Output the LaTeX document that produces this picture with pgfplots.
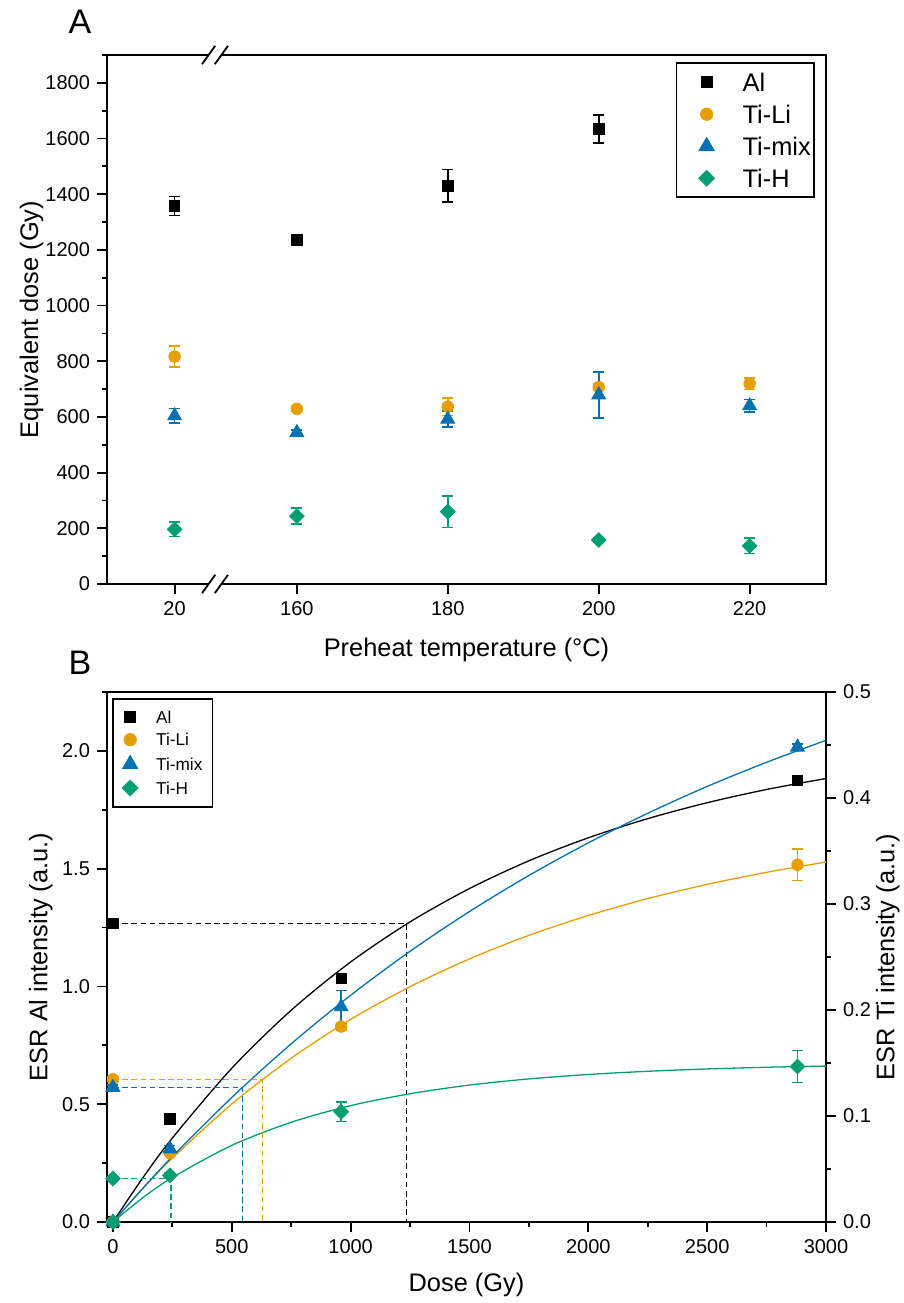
\documentclass[border=0pt]{standalone}
\usepackage{fontspec}
\setmainfont{Liberation Sans}
\usepackage{pgfplots}
\usepackage{pgfplotstable}
\pgfplotsset{compat=1.18}

\definecolor{tili}{HTML}{E69F00}
\definecolor{timix}{HTML}{0072B2}
\definecolor{tih}{HTML}{009E73}

% panel A: preheat plateau (x positions: 20 -> 0.19, 160..220 -> 1..4)
\pgfplotstableread[row sep=\\]{
x Al eAl Li eLi Mix eMix H eH \\
0.19 1358 34 817 38 604 26 196 26 \\
1 1236 8 629 10 544 10 244 28 \\
2 1430 59 637 32 592 29 260 57 \\
3 1634 51 707 12 679 83 158 8 \\
4 nan nan 719 20 640 22 137 28 \\
}\tabA

% panel B: dose response points
\pgfplotstableread[row sep=\\]{
x y e \\
0 0 0.005 \\
0 1.267 0.01 \\
240 0.437 0.01 \\
960 1.035 0.015 \\
2880 1.875 0.02 \\
}\bAl
\pgfplotstableread[row sep=\\]{
x y e \\
0 0 0.001 \\
0 0.1347 0.002 \\
240 0.0649 0.002 \\
960 0.1844 0.003 \\
2880 0.337 0.015 \\
}\bLi
\pgfplotstableread[row sep=\\]{
x y e \\
0 0 0.001 \\
0 0.127 0.002 \\
240 0.069 0.003 \\
960 0.203 0.0156 \\
2880 0.448 0.003 \\
}\bMix
\pgfplotstableread[row sep=\\]{
x y e \\
0 0 0.001 \\
0 0.041 0.002 \\
240 0.044 0.002 \\
960 0.104 0.009 \\
2880 0.1467 0.015 \\
}\bH

% fitted growth curves
\pgfplotstableread[row sep=\\]{
x al li mix h \\
0 0 0 0 0 \\
125 0.1865 0.0314 0.0316 0.0228 \\
250 0.3565 0.0603 0.0617 0.0420 \\
500 0.6527 0.1113 0.1175 0.0723 \\
750 0.8991 0.1545 0.1681 0.0941 \\
1000 1.1038 0.1911 0.2139 0.1098 \\
1250 1.2741 0.2220 0.2554 0.1210 \\
1500 1.4157 0.2482 0.2929 0.1292 \\
1750 1.5334 0.2704 0.3269 0.1350 \\
2000 1.6311 0.2892 0.3577 0.1392 \\
2250 1.7124 0.3051 0.3856 0.1422 \\
2500 1.7800 0.3185 0.4109 0.1444 \\
2750 1.8362 0.3299 0.4337 0.1460 \\
3000 1.8829 0.3396 0.4544 0.1471 \\
}\curves

\pgfplotsset{
  base/.style={
    scale only axis, width=359.5pt,
    tick align=outside,
    major tick length=5pt, minor tick length=2.5pt,
    tick style={black, line width=0.9pt},
    axis line style={line width=1pt},
    tick label style={font=\fontsize{10}{12}\selectfont},
    label style={font=\fontsize{12.7}{15}\selectfont},
    /pgf/number format/assume math mode=true,
    /pgf/number format/1000 sep={},
    clip=false,
  },
  alm/.style={black, only marks, mark=square*, mark size=2.6pt},
  lim/.style={tili, only marks, mark=*, mark size=2.9pt},
  mixm/.style={timix, only marks, mark=triangle*, mark size=4pt},
  hm/.style={tih, only marks, mark=square*, mark size=2.6pt, mark options={rotate=45}},
  ebar/.style={error bars/.cd, y dir=both, y explicit,
    error bar style={line width=0.8pt},
    error mark options={rotate=90, mark size=2.75pt, line width=0.8pt}},
  dashln/.style={line width=0.6pt, dash pattern=on 2.8pt off 1.8pt},
}

\begin{document}
\begin{tikzpicture}

\node[font=\fontsize{17}{20}\selectfont] at (40pt,-11pt) {A};
\node[font=\fontsize{17}{20}\selectfont] at (40pt,-331.5pt) {B};

% ---------- panel A ----------
\begin{axis}[base,
  at={(53.5pt,-292pt)}, anchor=south west, height=264.5pt,
  xmin=-0.258, xmax=4.506, ymin=0, ymax=1900,
  xtick={0.19,1,2,3,4}, xticklabels={20,160,180,200,220},
  xtick pos=bottom, ytick pos=left,
  ytick={0,200,...,1800}, minor ytick={100,300,...,1900},
  xlabel={Preheat temperature (°C)}, ylabel={Equivalent dose (Gy)},
  xlabel style={at={(axis description cs:0.5,-0.125)}, anchor=center},
  ylabel style={at={(axis description cs:-0.105,0.5)}, anchor=center},
  legend style={at={(axis description cs:0.9847,0.986)}, anchor=north east,
    draw=black, line width=0.8pt, font=\fontsize{12.7}{15}\selectfont,
    inner xsep=1.7pt, inner ysep=5pt, row sep=7pt,
    nodes={inner sep=0pt, text height=9pt, text depth=0pt}},
  legend cell align=left,
  legend image code/.code={\path[draw=none, fill=none] (0pt,0pt) -- (31.3pt,0pt);
    \draw[#1, draw=none] plot coordinates {(13.3pt,0pt)};},
]
\addplot[alm, ebar] table[x=x, y=Al, y error=eAl] {\tabA};
\addlegendentry{Al}
\addplot[lim, ebar] table[x=x, y=Li, y error=eLi] {\tabA};
\addlegendentry{Ti-Li}
\addplot[mixm, ebar] table[x=x, y=Mix, y error=eMix] {\tabA};
\addlegendentry{Ti-mix}
\addplot[hm, ebar] table[x=x, y=H, y error=eH] {\tabA};
\addlegendentry{Ti-H}
% axis break marks
\fill[white] ([xshift=-3.2pt,yshift=-1.6pt]rel axis cs:0.1502,0) rectangle ([xshift=3.2pt,yshift=1.6pt]rel axis cs:0.1502,0);
\draw[line width=0.9pt] ([xshift=-6.5pt,yshift=-4.6pt]rel axis cs:0.1502,0) -- ([xshift=0.1pt,yshift=4.6pt]rel axis cs:0.1502,0);
\draw[line width=0.9pt] ([xshift=-0.1pt,yshift=-4.6pt]rel axis cs:0.1502,0) -- ([xshift=6.5pt,yshift=4.6pt]rel axis cs:0.1502,0);
\fill[white] ([xshift=-3.2pt,yshift=-1.6pt]rel axis cs:0.1502,1) rectangle ([xshift=3.2pt,yshift=1.6pt]rel axis cs:0.1502,1);
\draw[line width=0.9pt] ([xshift=-6.5pt,yshift=-4.6pt]rel axis cs:0.1502,1) -- ([xshift=0.1pt,yshift=4.6pt]rel axis cs:0.1502,1);
\draw[line width=0.9pt] ([xshift=-0.1pt,yshift=-4.6pt]rel axis cs:0.1502,1) -- ([xshift=6.5pt,yshift=4.6pt]rel axis cs:0.1502,1);
\end{axis}

% ---------- panel B, Al (left axis) ----------
\begin{axis}[base,
  at={(53.5pt,-611pt)}, anchor=south west, height=265pt,
  xmin=-25, xmax=3000, ymin=0, ymax=2.25,
  xtick={0,500,...,3000}, minor xtick={250,750,1250,1750,2250,2750},
  ytick={0,0.5,1,1.5,2}, minor ytick={0.25,0.75,1.25,1.75,2.25},
  xtick pos=bottom, ytick pos=left,
  yticklabel style={/pgf/number format/.cd, fixed, fixed zerofill, precision=1},
  xlabel={Dose (Gy)}, ylabel={ESR Al intensity (a.u.)},
  xlabel style={at={(axis description cs:0.5,-0.119)}, anchor=center},
  ylabel style={at={(axis description cs:-0.092,0.5)}, anchor=center},
]
\addplot[black, line width=0.65pt, smooth] table[x=x, y=al] {\curves};
\addplot[black, dashln] coordinates {(0,1.267) (1236,1.267) (1236,0)};
\addplot[alm, ebar] table[x=x, y=y, y error=e] {\bAl};
\end{axis}

% ---------- panel B, Ti (right axis) ----------
\begin{axis}[base,
  at={(53.5pt,-611pt)}, anchor=south west, height=265pt,
  xmin=-25, xmax=3000, ymin=0, ymax=0.5,
  axis x line=none, axis y line*=right,
  ytick={0,0.1,0.2,0.3,0.4,0.5}, minor ytick={0.05,0.15,0.25,0.35,0.45},
  yticklabel style={/pgf/number format/.cd, fixed, fixed zerofill, precision=1},
  ylabel={ESR Ti intensity (a.u.)},
  ylabel style={at={(axis description cs:1.086,0.5)}, anchor=center},
  legend style={at={(axis description cs:0.007,0.988)}, anchor=north west,
    draw=black, line width=0.8pt, font=\fontsize{8.6}{10}\selectfont,
    inner xsep=5pt, inner ysep=5.8pt, row sep=5.15pt,
    nodes={inner sep=0pt, text height=6.2pt, text depth=0pt}},
  legend cell align=left,
  legend image code/.code={\path[draw=none, fill=none] (0pt,0pt) -- (16.5pt,0pt);
    \draw[#1, draw=none] plot coordinates {(3.5pt,0pt)};},
]
\addlegendimage{alm}
\addlegendentry{Al}
\addplot[tili, line width=0.65pt, smooth, forget plot] table[x=x, y=li] {\curves};
\addplot[timix, line width=0.65pt, smooth, forget plot] table[x=x, y=mix] {\curves};
\addplot[tih, line width=0.65pt, smooth, forget plot] table[x=x, y=h] {\curves};
\addplot[tili, dashln, forget plot] coordinates {(0,0.1347) (629,0.1347) (629,0)};
\addplot[timix, dashln, forget plot] coordinates {(0,0.127) (544,0.127) (544,0)};
\addplot[tih, dashln, forget plot] coordinates {(0,0.041) (244,0.041) (244,0)};
\addplot[lim, ebar] table[x=x, y=y, y error=e] {\bLi};
\addlegendentry{Ti-Li}
\addplot[mixm, ebar] table[x=x, y=y, y error=e] {\bMix};
\addlegendentry{Ti-mix}
\addplot[hm, ebar] table[x=x, y=y, y error=e] {\bH};
\addlegendentry{Ti-H}
\end{axis}

\pgfresetboundingbox
\path[use as bounding box] (0,0) rectangle (452pt,-651.5pt);
\end{tikzpicture}
\end{document}
